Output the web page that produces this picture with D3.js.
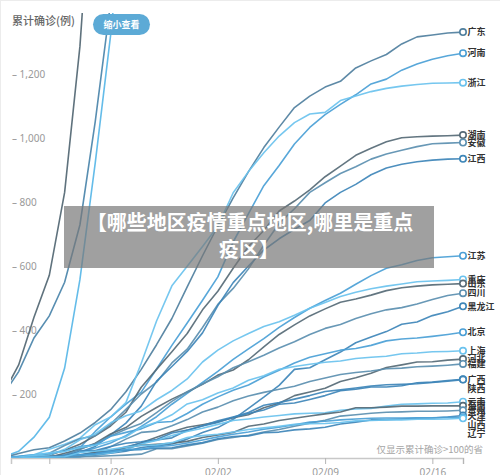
<!DOCTYPE html>
<html><head><meta charset="utf-8">
<script src="https://cdn.jsdelivr.net/npm/d3@7"></script>
<style>
body{margin:0;background:#fff;}
svg{display:block;font-family:"Noto Sans CJK SC","Noto Sans",sans-serif;}
</style>
</head><body>
<svg id="chart" width="500" height="475"></svg>
<script>
// ---------- data (daily cumulative confirmed, from 2020-01-19) ----------
const firstDay = "2020-01-19";
const xTickDates = ["2020-01-22","2020-01-26","2020-02-02","2020-02-09","2020-02-16","2020-02-18"];
const xTickLabels = ["","01/26","02/02","02/09","02/16",""];
const yTicks = [200,400,600,800,1000,1200];

const provinces = ["广东","河南","浙江","湖南","安徽","江西","江苏","重庆","山东","四川","黑龙江","北京","上海","河北","福建","广西","陕西","云南","海南","贵州","天津","山西","辽宁"];
const guangdong = [1,14,26,32,53,78,111,151,207,277,354,436,535,632,725,813,895,970,1034,1095,1131,1159,1177,1219,1241,1261,1294,1316,1322,1328,1331];
const henan     = [0,0,1,5,9,32,83,128,168,206,278,352,422,493,566,675,764,851,914,981,1033,1073,1105,1135,1169,1184,1212,1231,1246,1257,1265];
const zhejiang  = [0,5,10,27,43,62,104,128,173,296,428,538,599,661,724,829,895,954,1006,1048,1075,1080,1117,1131,1145,1155,1162,1167,1171,1172,1173];
const hunan     = [0,1,4,9,24,43,69,100,143,221,277,332,389,463,521,593,661,711,772,803,838,879,912,946,968,988,1001,1004,1006,1007,1009];
const anhui     = [0,0,1,15,39,60,70,106,152,200,237,297,340,408,480,530,591,665,733,779,830,860,889,910,934,950,962,973,982,984,986];
const jiangxi   = [0,0,2,3,7,18,36,72,109,162,240,286,333,391,476,548,600,650,685,715,742,797,830,855,885,906,918,926,931,934,935];
const jiangsu   = [0,0,1,1,9,18,31,47,70,99,129,168,202,236,271,308,341,373,408,439,468,492,515,543,570,593,604,617,626,629,632];
const chongqing = [0,1,5,9,27,57,75,110,132,147,182,211,247,300,337,366,389,411,426,446,468,486,505,518,529,537,544,551,553,555,558];
const shandong  = [0,0,1,2,15,27,46,75,95,130,158,184,206,230,259,275,307,347,386,416,444,466,487,497,509,523,532,537,541,543,545];
const sichuan   = [0,0,1,5,8,28,44,69,90,108,142,177,207,231,254,282,301,321,344,363,386,405,417,436,451,463,470,481,495,508,515];
const heilongjiang = [0,0,0,1,2,4,9,15,21,33,38,44,59,80,95,121,155,190,227,277,282,307,331,360,378,395,418,425,445,457,474];
const beijing   = [2,5,10,14,22,36,41,68,80,91,111,114,139,168,191,212,228,253,274,297,315,326,337,342,352,366,372,375,380,386,393];
const shanghai  = [0,2,9,16,20,33,40,53,66,96,112,135,169,182,203,219,243,257,277,286,293,299,303,311,315,318,326,328,332,333,335];
const hebei     = [0,0,1,1,2,8,13,18,33,48,65,82,96,104,113,126,135,157,171,195,206,218,239,251,265,283,291,300,301,306,309];
const fujian    = [0,0,0,1,5,10,18,35,59,80,84,101,120,144,159,179,194,205,215,224,239,250,261,267,272,279,281,285,287,290,294];
const guangxi   = [0,0,0,2,5,23,23,36,46,51,58,78,87,100,111,127,139,150,168,172,183,195,210,215,222,222,226,235,237,242,246];
const shaanxi   = [0,0,0,1,3,5,15,22,35,46,56,63,87,101,116,128,142,165,173,184,195,208,213,219,225,229,230,232,236,240,245];
const yunnan    = [0,0,1,1,2,5,11,16,26,44,55,70,83,93,105,117,122,128,133,138,140,141,149,153,155,162,168,169,171,172,176];
const hainan    = [0,0,0,4,5,8,19,22,33,40,43,46,52,64,72,80,99,106,117,124,131,138,144,157,157,159,162,162,163,163,163];
const guizhou   = [0,0,1,1,3,4,5,7,9,12,29,29,38,46,58,64,71,81,89,99,109,118,131,135,140,143,144,146,146,147,149];
const tianjin   = [0,0,2,4,8,10,14,23,24,27,31,32,41,48,60,67,69,79,81,88,91,96,106,112,119,120,122,124,125,128,133];
const shanxi    = [0,0,1,1,6,9,13,20,27,27,35,39,47,56,66,74,81,90,96,104,112,115,119,122,124,125,125,126,126,127,127];
const liaoning  = [0,0,2,3,4,17,21,27,34,39,41,48,64,70,74,81,89,94,99,105,107,108,111,116,117,119,119,121,121,122,124];
// steep (off-chart) series, unlabeled
const national  = [201,291,440,571,830,1287,1975,2744,4515];
const hubei     = [198,270,375,444,549,729,1052,1423,2714];
const outsideHubei = [3,21,65,127,281,558,923,1321,1801];

const provinceValues = [guangdong,henan,zhejiang,hunan,anhui,jiangxi,jiangsu,chongqing,shandong,sichuan,heilongjiang,beijing,shanghai,hebei,fujian,guangxi,shaanxi,yunnan,hainan,guizhou,tianjin,shanxi,liaoning];

// ---------- styles ----------
const C = {dark:"#566a76", steel:"#5b8fb0", mid:"#3e86b8", blue:"#4a9fd6", light:"#6ac2ee", slate:"#4f7f9e"};
const provinceColors = [C.slate,C.blue,C.light,C.dark,C.steel,C.mid,C.blue,C.light,C.dark,C.steel,C.mid,C.blue,C.light,C.dark,C.steel,C.mid,C.mid,C.light,C.dark,C.steel,C.mid,C.blue,C.light];
const steepColors = [C.dark,"#4f88ad","#5cb8e8"];

const svg = d3.select("#chart");
const parse = d3.timeParse("%Y-%m-%d");
const day0 = parse(firstDay);
const dateAt = i => d3.timeDay.offset(day0, i);

const x = d3.scaleTime()
  .domain([d3.timeHour.offset(day0, 12), parse("2020-02-18")])
  .range([11, 463]);
const y = d3.scaleLinear().domain([0, 1200]).range([458, 74]);

// faint frame
svg.append("line").attr("x1",0.5).attr("x2",0.5).attr("y1",0).attr("y2",475).attr("stroke","#ececec");
svg.append("line").attr("x1",0).attr("x2",500).attr("y1",0.5).attr("y2",0.5).attr("stroke","#ececec");

// y axis
const yAxis = svg.append("g").attr("transform","translate(12,0)")
  .call(d3.axisRight(y).tickValues(yTicks).tickSize(0).tickPadding(0)
    .tickFormat(d => "– " + d3.format(",")(d)));
yAxis.select(".domain").remove();
yAxis.selectAll("text").attr("fill","#999").style("font-size","10px").style("font-family","'Noto Sans','DejaVu Sans',sans-serif");

// x axis
const xAxis = svg.append("g").attr("transform","translate(0,458)")
  .call(d3.axisBottom(x).tickValues(xTickDates.map(parse)).tickSize(6).tickPadding(5)
    .tickFormat((d,i) => xTickLabels[i]));
xAxis.select(".domain").attr("stroke","#c8c8c8").attr("stroke-width",1.5);
xAxis.selectAll(".tick line").attr("stroke","#b5b5b5");
xAxis.selectAll("text").attr("fill","#999").style("font-size","10px").style("font-family","'Noto Sans','DejaVu Sans',sans-serif");

// clip
svg.append("clipPath").attr("id","plot").append("rect")
  .attr("x",11).attr("y",13).attr("width",460).attr("height",445);

const line = d3.line().x((d,i) => x(dateAt(i))).y(d => y(d));
const lines = svg.append("g").attr("clip-path","url(#plot)");

[national, hubei, outsideHubei].forEach((vals,k) => {
  lines.append("path").attr("d", line(vals)).attr("fill","none")
    .attr("stroke", steepColors[k]).attr("stroke-width",1.6).attr("stroke-opacity",0.95);
});
provinceValues.forEach((vals,k) => {
  lines.append("path").attr("d", line(vals)).attr("fill","none")
    .attr("stroke", provinceColors[k]).attr("stroke-width",1.6).attr("stroke-opacity",0.92)
    .attr("stroke-linejoin","round");
});

// end circles + labels
const ends = provinces.map((p,k) => {
  const vals = provinceValues[k];
  const i = vals.length - 1;
  return {name:p, cx:x(dateAt(i)), cy:y(vals[i]), color:provinceColors[k], v:vals[i]};
});
ends.forEach(e => {
  svg.append("circle").attr("cx",e.cx).attr("cy",e.cy).attr("r",3.2)
    .attr("fill","#fff").attr("stroke",e.color).attr("stroke-width",1.6);
});
const sorted = ends.slice().sort((a,b) => b.v - a.v);
let prev = -100;
sorted.forEach(e => {
  let ly = e.cy;
  if (ly - prev < 2) ly = prev + 9;
  prev = ly;
  svg.append("text").attr("x",e.cx + 4.5).attr("y",ly).attr("dy","0.36em")
    .attr("fill","#333").style("font-size","9px").style("font-weight","700").text(e.name);
});

// y label
svg.append("text").attr("x",12).attr("y",25).attr("fill","#666")
  .style("font-size","11px").style("font-weight","500").text("累计确诊(例)");

// button
svg.append("rect").attr("x",93).attr("y",14).attr("width",57).attr("height",21).attr("rx",10.5)
  .attr("fill","#5caad6");
svg.append("text").attr("x",121.5).attr("y",24.5).attr("dy","0.36em").attr("text-anchor","middle")
  .attr("fill","#fff").style("font-size","9px").style("font-weight","700").text("缩小查看");

// note
svg.append("text").attr("x",483).attr("y",450).attr("dy","0.36em").attr("text-anchor","end")
  .attr("fill","#a5a5a5").style("font-size","9.5px").text("仅显示累计确诊>100的省");

// overlay title
svg.append("rect").attr("x",64).attr("y",206).attr("width",370).attr("height",62)
  .attr("fill","#777").attr("fill-opacity",0.7);
svg.append("text").attr("x",250).attr("y",223).attr("dy","0.36em").attr("text-anchor","middle")
  .attr("fill","#fff").style("font-size","20px").style("font-weight","700").text("【哪些地区疫情重点地区,哪里是重点");
svg.append("text").attr("x",249).attr("y",250).attr("dy","0.36em").attr("text-anchor","middle")
  .attr("fill","#fff").style("font-size","20px").style("font-weight","700").text("疫区】");
</script>
</body></html>
